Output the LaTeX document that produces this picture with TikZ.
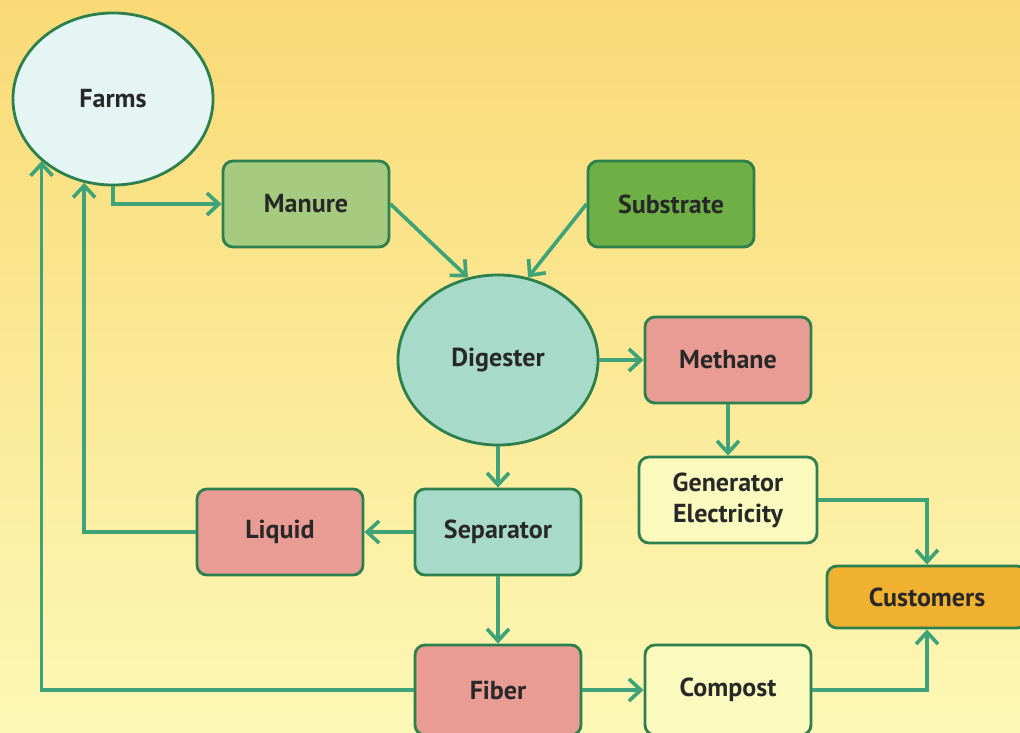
\documentclass[tikz,border=0pt]{standalone}
\usepackage{fontspec}
\setmainfont{PT Sans}
\usetikzlibrary{shapes.geometric,arrows.meta}

\definecolor{bgtop}{RGB}{249,218,118}
\definecolor{bgbot}{RGB}{253,248,182}
\definecolor{linegreen}{RGB}{62,163,120}
\definecolor{edgegreen}{RGB}{44,128,78}
\definecolor{farmfill}{RGB}{228,245,244}
\definecolor{manurefill}{RGB}{166,203,128}
\definecolor{substratefill}{RGB}{110,176,70}
\definecolor{tealfill}{RGB}{168,218,202}
\definecolor{redfill}{RGB}{232,156,148}
\definecolor{palefill}{RGB}{250,250,190}
\definecolor{orangefill}{RGB}{240,176,48}
\definecolor{textgray}{RGB}{40,40,40}

\begin{document}
\begin{tikzpicture}[x=0.025cm, y=-0.025cm,
    every node/.style={font=\fontsize{18.5}{22}\selectfont\bfseries, text=textgray},
    box/.style={rectangle, rounded corners=0.25cm, draw=edgegreen, line width=2pt,
                minimum width=4.15cm, minimum height=2.15cm, align=center},
    blob/.style={ellipse, draw=edgegreen, line width=2pt,
                 minimum width=5cm, minimum height=4.25cm},
    flow/.style={draw=linegreen, line width=2.6pt,
                 -{Straight Barb[length=0.3cm, width=0.55cm, line width=2.6pt]}}]
			% Background
			\useasboundingbox (0,0) rectangle (1020,732);
			\shade[top color=bgtop, bottom color=bgbot] (0,0) rectangle (1020,732);

			% Nodes
			\node[blob, fill=farmfill, minimum height=4.3cm] (farms) at (113,99) {Farms};
			\node[box, fill=manurefill] (manure) at (306,204) {Manure};
			\node[box, fill=substratefill] (substrate) at (671,204) {Substrate};
			\node[blob, fill=tealfill] (digester) at (498,360) {Digester};
			\node[box, fill=redfill] (methane) at (728,360) {Methane};
			\node[box, fill=palefill, minimum width=4.45cm] (generator) at (728,500) {Generator\\Electricity};
			\node[box, fill=orangefill, minimum width=5cm, minimum height=1.55cm] (customers) at (927,597) {Customers};
			\node[box, fill=tealfill] (separator) at (498,532) {Separator};
			\node[box, fill=redfill] (liquid) at (280,532) {Liquid};
			\node[box, fill=redfill, minimum height=2.25cm] (fiber) at (498,690) {Fiber};
			\node[box, fill=palefill, minimum height=2.25cm] (compost) at (728,690) {Compost};

			% Links
			\draw[flow] (farms.south) |- (manure.west);
			\draw[flow] (manure.east) -- (digester.110);
			\draw[flow] (substrate.west) -- (digester.70);
			\draw[flow] (digester.east) -- (methane.west);
			\draw[flow] (methane.south) -- (generator.north);
			\draw[flow] (generator.east) -| (customers.north);
			\draw[flow] (digester.south) -- (separator.north);
			\draw[flow] (separator.west) -- (liquid.east);
			\draw[flow] (liquid.west) -| (farms.251);
			\draw[flow] (separator.south) -- (fiber.north);
			\draw[flow] (fiber.west) -| (farms.221);
			\draw[flow] (fiber.east) -- (compost.west);
			\draw[flow] (compost.east) -| (customers.south);
		\end{tikzpicture}
\end{document}
